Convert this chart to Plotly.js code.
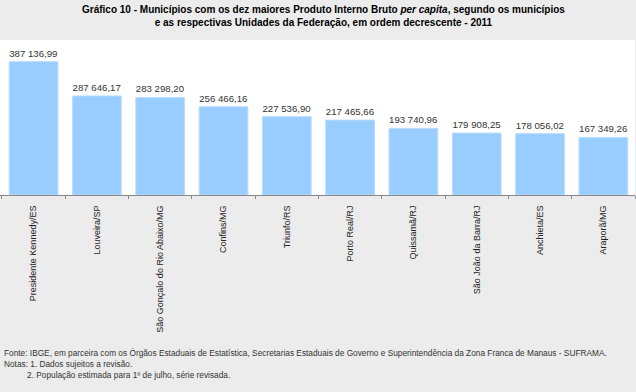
<!DOCTYPE html>
<html>
<head>
<meta charset="utf-8">
<script src="https://cdn.plot.ly/plotly-3.0.1.min.js"></script>
<style>html,body{margin:0;padding:0;background:#ECECEC;}#chart{width:636px;height:392px;}</style>
</head>
<body>
<div id="chart"></div>
<script>
const categories = ["Presidente Kennedy/ES","Louveira/SP","São Gonçalo do Rio Abaixo/MG","Confins/MG","Triunfo/RS","Porto Real/RJ","Quissamã/RJ","São João da Barra/RJ","Anchieta/ES","Araporã/MG"];
const values = [387136.99, 287646.17, 283298.20, 256466.16, 227536.90, 217465.66, 193740.96, 179908.25, 178056.02, 167349.26];

const titleText = "<b>Gráfico 10 - Municípios com os dez maiores Produto Interno Bruto <i>per capita</i>, segundo os municípios<br>e as respectivas Unidades da Federação, em ordem decrescente - 2011</b>";
const footText = "Fonte: IBGE, em parceira com os Órgãos Estaduais de Estatística, Secretarias Estaduais de Governo e Superintendência da Zona Franca de Manaus - SUFRAMA.<br>Notas: 1. Dados sujeitos a revisão.<br>          2. População estimada para 1º de julho, série revisada.";

const sans = "'Liberation Sans', Arial, sans-serif";

const trace = {
  type: 'bar',
  x: categories,
  y: values,
  marker: {color: '#99CCFF', line: {color: '#BBDDFF', width: 1}},
  texttemplate: '%{y:,.2f}',
  textposition: 'outside',
  cliponaxis: false,
  textfont: {family: sans, size: 10, color: '#333333'},
  hoverinfo: 'none'
};

const layout = {
  width: 636, height: 392,
  separators: ', ',
  paper_bgcolor: '#ECECEC',
  plot_bgcolor: '#FFFFFF',
  margin: {l: 0, r: 1, t: 40, b: 197, pad: 0},
  showlegend: false,
  bargap: 0.23,
  font: {family: sans, color: '#222222'},
  xaxis: {
    type: 'category',
    range: [-0.53, 9.5],
    tickangle: -90,
    tickfont: {family: sans, size: 9, color: '#222222'},
    ticklabelstandoff: 6,
    showline: true, linecolor: '#888888', linewidth: 1,
    ticks: 'outside', tickson: 'boundaries', ticklen: 3, tickcolor: '#888888',
    showgrid: false, zeroline: false, fixedrange: true
  },
  yaxis: {
    range: [0, 450000],
    visible: false, showgrid: false, zeroline: false, fixedrange: true
  },
  annotations: [{
    text: titleText, xref: 'paper', yref: 'paper', x: 0.51, y: 1, yshift: 10,
    xanchor: 'center', yanchor: 'bottom', align: 'center', showarrow: false,
    font: {family: sans, size: 10, color: '#000000'}
  }, {
    text: footText, xref: 'paper', yref: 'paper', x: 0, y: 0, xshift: 2,
    xanchor: 'left', yanchor: 'top', yshift: -151, align: 'left', showarrow: false,
    font: {family: sans, size: 8.3, color: '#333333'}
  }]
};

Plotly.newPlot('chart', [trace], layout, {displayModeBar: false, staticPlot: true});
</script>
</body>
</html>
